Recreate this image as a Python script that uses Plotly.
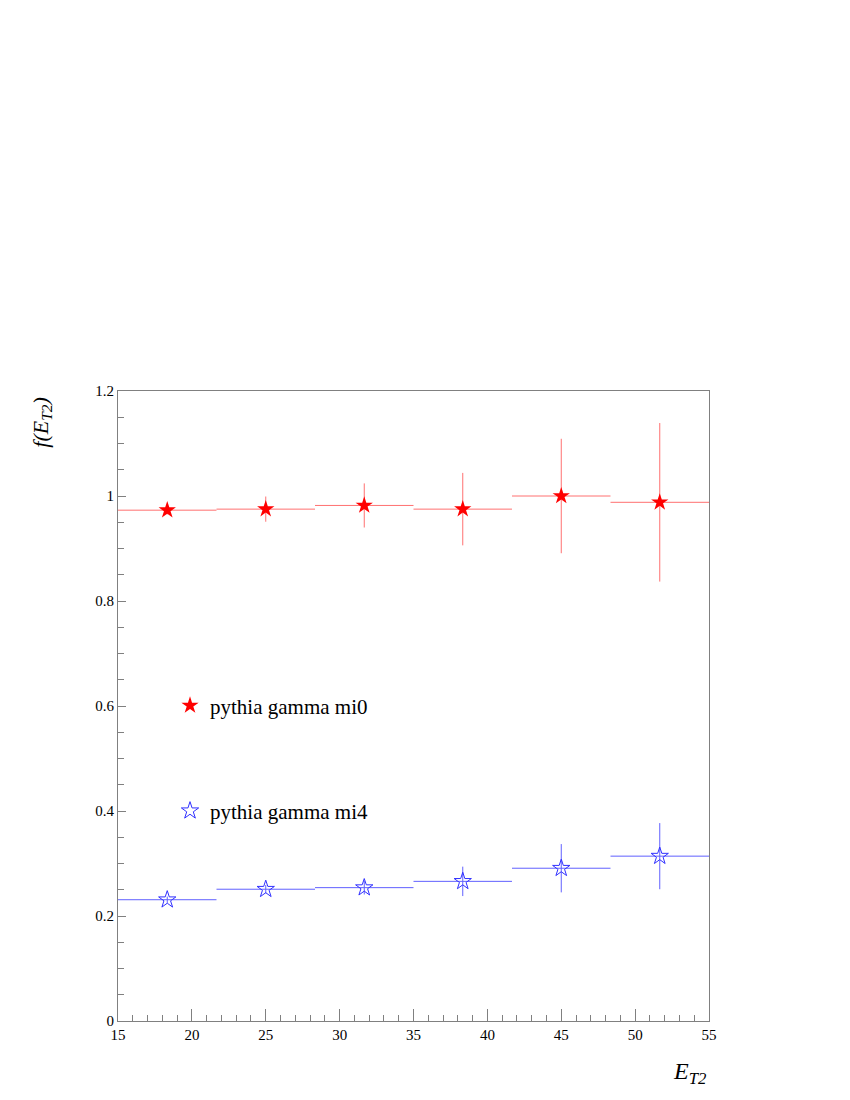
import plotly.graph_objects as go

# bin centres / half widths
x_centers = [18.333, 25.0, 31.667, 38.333, 45.0, 51.667]
x_half = [3.333, 3.333, 3.333, 3.333, 3.333, 3.333]

mi0_vals = [0.973, 0.975, 0.982, 0.975, 1.000, 0.988]
mi0_errs = [0.008, 0.024, 0.042, 0.069, 0.109, 0.151]

mi4_vals = [0.231, 0.251, 0.254, 0.266, 0.291, 0.314]
mi4_errs = [0.006, 0.008, 0.013, 0.028, 0.046, 0.063]

x_ticks = [15, 20, 25, 30, 35, 40, 45, 50, 55]
y_ticks = [0, 0.2, 0.4, 0.6, 0.8, 1.0, 1.2]
y_tick_text = ["0", "0.2", "0.4", "0.6", "0.8", "1", "1.2"]

FONT = "Liberation Serif"
red_line = "#ff7070"
blue_line = "#6060ff"

fig = go.Figure()
fig.add_trace(go.Scatter(
    x=x_centers, y=mi0_vals, mode="markers", name="pythia gamma mi0",
    legendgroup="a",
    marker=dict(symbol="star", size=13, color="#ff0000", line=dict(width=0)),
    error_y=dict(type="data", array=mi0_errs, color=red_line, thickness=1, width=0),
    error_x=dict(type="data", array=x_half, color=red_line, thickness=1, width=0),
))
fig.add_trace(go.Scatter(
    x=x_centers, y=mi4_vals, mode="markers", name="pythia gamma mi4",
    legendgroup="b",
    marker=dict(symbol="star-open", size=13, color="#3030ff", line=dict(width=1)),
    error_y=dict(type="data", array=mi4_errs, color=blue_line, thickness=1, width=0),
    error_x=dict(type="data", array=x_half, color=blue_line, thickness=1, width=0),
))

axis_common = dict(
    showgrid=False, zeroline=False, showline=True, linecolor="#808080", linewidth=1,
    mirror=True, ticks="inside", tickcolor="#808080",
    tickfont=dict(family=FONT, size=15, color="black"),
)

fig.update_xaxes(range=[15, 55], tickvals=x_ticks, ticklen=12,
                 minor=dict(dtick=1, ticklen=6, ticks="inside", tickcolor="#808080"),
                 **axis_common)
fig.update_yaxes(range=[0, 1.2], tickvals=y_ticks, ticktext=y_tick_text, ticklen=8,
                 minor=dict(dtick=0.05, ticklen=6, ticks="inside", tickcolor="#808080"),
                 **axis_common)

fig.update_layout(
    width=850, height=1100,
    margin=dict(l=110, r=149, t=383, b=87),
    plot_bgcolor="white", paper_bgcolor="white",
    font=dict(family=FONT, color="black"),
    showlegend=True,
    legend=dict(x=0.088, y=0.417, xanchor="left", yanchor="middle",
                bgcolor="rgba(0,0,0,0)", font=dict(family=FONT, size=21, color="black"),
                tracegroupgap=75, itemsizing="trace"),
    annotations=[
        dict(text="<i>f(E<sub>T2</sub>)</i>", xref="paper", yref="paper",
             x=-0.13, y=0.95, xanchor="center", yanchor="middle", textangle=-90,
             showarrow=False, font=dict(family=FONT, size=22, color="black")),
        dict(text="<i>E<sub>T2</sub></i>", xref="paper", yref="paper",
             x=1.0, y=-0.055, xanchor="right", yanchor="top",
             showarrow=False, font=dict(family=FONT, size=24, color="black")),
    ],
)

fig.write_html("out.html")
